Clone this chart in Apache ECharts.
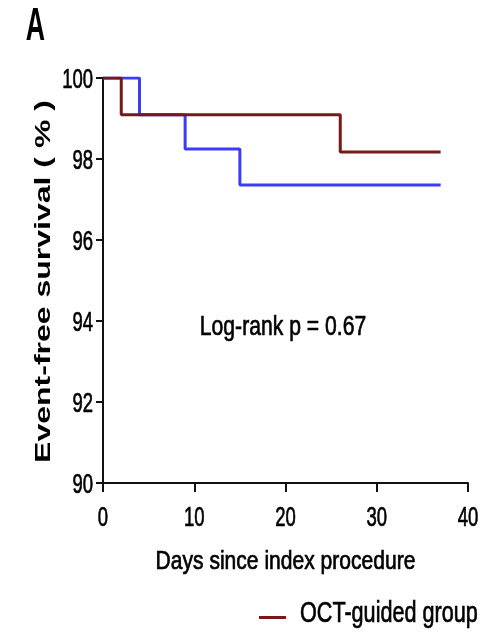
<!DOCTYPE html>
<html><head><meta charset="utf-8">
<script src="https://cdn.jsdelivr.net/npm/echarts@6/dist/echarts.min.js"></script>
<style>html,body{margin:0;padding:0;background:#fff}#c{width:495px;height:633px}</style>
</head><body><div id="c"></div>
<script>
var octDays = [0, 2, 26, 37];
var octSurv = [100, 99.09, 98.17, 98.17];
var angioDays = [0, 4, 9, 15, 37];
var angioSurv = [100, 99.09, 98.25, 97.36, 97.36];
var xTicks = [0, 10, 20, 30, 40];
var yTicks = [90, 92, 94, 96, 98, 100];
var octName = 'OCT-guided group';
var angioName = 'Angiography-guided group';
var octColor = '#7a1818';
var angioColor = '#3c3cf5';
var sans = '"Liberation Sans", Arial, sans-serif';

function pairs(xs, ys){ return xs.map(function(x,i){ return [x, ys[i]]; }); }

var chart = echarts.init(document.getElementById('c'), null, {renderer:'canvas'});
chart.setOption({
  animation:false,
  backgroundColor:'#fff',
  grid:{left:103, top:78, right:27, bottom:150, containLabel:false},
  xAxis:{
    type:'value', min:0, max:40, interval:10,
    axisLine:{show:true, lineStyle:{color:'#111', width:2}},
    axisTick:{show:true, length:9, lineStyle:{color:'#111', width:2}},
    axisLabel:{show:false},
    splitLine:{show:false}
  },
  yAxis:{
    type:'value', min:90, max:100, interval:2,
    axisLine:{show:true, lineStyle:{color:'#111', width:2}},
    axisTick:{show:true, length:7, lineStyle:{color:'#111', width:2}},
    axisLabel:{show:false},
    splitLine:{show:false}
  },
  series:[
    {name:angioName, type:'line', step:'end', data:pairs(angioDays, angioSurv),
     showSymbol:false, lineStyle:{color:angioColor, width:3}, itemStyle:{color:angioColor}, z:2},
    {name:octName, type:'line', step:'end', data:pairs(octDays, octSurv),
     showSymbol:false, lineStyle:{color:octColor, width:3}, itemStyle:{color:octColor}, z:3}
  ]
});

// Condensed text (the figure's lettering is horizontally compressed), placed through the axis scales
var ink = {fill:'#000', stroke:'#000', lineWidth:0.7};
function txt(o){ return Object.assign({}, ink, o); }
var g = [];
xTicks.forEach(function(v){
  var p = chart.convertToPixel({gridIndex:0}, [v, 90]);
  g.push({type:'text', x:p[0], y:p[1] + 35, scaleX:0.66,
    style:txt({text:String(v), font:'28px ' + sans, align:'center', verticalAlign:'middle'})});
});
yTicks.forEach(function(v){
  var p = chart.convertToPixel({gridIndex:0}, [0, v]);
  g.push({type:'text', x:p[0] - 10, y:p[1] + 2, scaleX:0.66,
    style:txt({text:String(v), font:'28px ' + sans, align:'right', verticalAlign:'middle'})});
});
var x0 = chart.convertToPixel({gridIndex:0}, [0, 90]);
var x40 = chart.convertToPixel({gridIndex:0}, [40, 100]);
var cx = (x0[0] + x40[0]) / 2;
var cy = (x0[1] + x40[1]) / 2;
// x axis title
g.push({type:'text', x:cx, y:x0[1] + 79, scaleX:0.81,
  style:txt({text:'Days since index procedure', font:'26px ' + sans, align:'center', verticalAlign:'middle'})});
// y axis title
g.push({type:'text', x:44, y:cy + 1, rotation:Math.PI/2, scaleY:0.7,
  style:{text:'Event-free survival ( % )', font:'bold 32px ' + sans, fill:'#000', align:'center', verticalAlign:'middle'}});
// panel letter
g.push({type:'text', x:35.5, y:27, scaleX:0.58,
  style:{text:'A', font:'bold 46px ' + sans, fill:'#000', align:'center', verticalAlign:'middle'}});
// annotation
g.push({type:'text', x:283, y:327, scaleX:0.755,
  style:txt({text:'Log-rank p = 0.67', font:'28px ' + sans, align:'center', verticalAlign:'middle'})});
// legend (visible entry)
g.push({type:'rect', shape:{x:259, y:616, width:27, height:3}, style:{fill:octColor}});
g.push({type:'text', x:300, y:614, scaleX:0.745,
  style:txt({text:octName, font:'29px ' + sans, align:'left', verticalAlign:'middle'})});

chart.setOption({graphic:g});
</script></body></html>
